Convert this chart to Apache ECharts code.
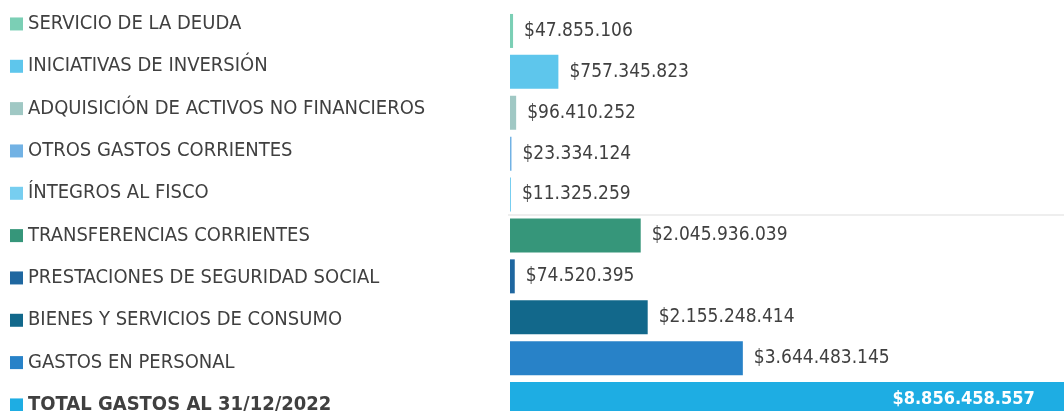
<!DOCTYPE html>
<html>
<head>
<meta charset="utf-8">
<script src="https://cdn.jsdelivr.net/npm/echarts@6/dist/echarts.min.js"></script>
<style>
  html, body { margin: 0; padding: 0; background: #fff; }
  #gastos { width: 1064px; height: 411px; }
</style>
</head>
<body>
<div id="gastos"></div>
<script>
  var categories = [
    'SERVICIO DE LA DEUDA',
    'INICIATIVAS DE INVERSIÓN',
    'ADQUISICIÓN DE ACTIVOS NO FINANCIEROS',
    'OTROS GASTOS CORRIENTES',
    'ÍNTEGROS AL FISCO',
    'TRANSFERENCIAS CORRIENTES',
    'PRESTACIONES DE SEGURIDAD SOCIAL',
    'BIENES Y SERVICIOS DE CONSUMO',
    'GASTOS EN PERSONAL',
    'TOTAL GASTOS AL 31/12/2022'
  ];
  var montos = [47855106, 757345823, 96410252, 23334124, 11325259, 2045936039, 74520395, 2155248414, 3644483145, 8856458557];
  var colores = ['#7BCFB5', '#5EC6EC', '#A0C8C4', '#72B2E4', '#77CEF0', '#36967A', '#1F67A0', '#12688B', '#2882C8', '#1EADE3'];

  var fuente = '"DejaVu Sans Condensed", "DejaVu Sans", sans-serif';
  var totalIdx = categories.length - 1;

  function pesos(v) {
    return '$' + String(v).replace(/\B(?=(\d{3})+(?!\d))/g, '.');
  }

  // marcadores de color para cada etiqueta
  var rich = {
    t: { fontFamily: fuente, fontSize: 20, color: '#404040', padding: [0, 0, 0, 5] },
    b: { fontFamily: fuente, fontSize: 20, color: '#404040', fontWeight: 'bold', padding: [0, 0, 0, 5] }
  };
  colores.forEach(function (c, i) {
    rich['m' + i] = { width: 13, height: 13, backgroundColor: c };
  });

  var chart = echarts.init(document.getElementById('gastos'));
  var option;

  option = {
    animation: false,
    grid: [
      { left: 510, width: 575, top: 10.5, height: 409, outerBoundsMode: 'none' },
      { left: 10, width: 1, top: 2.8, height: 423.3, outerBoundsMode: 'none' }
    ],
    xAxis: [
      { type: 'value', gridIndex: 0, min: 0, max: 9e9, show: false },
      { type: 'value', gridIndex: 1, show: false }
    ],
    yAxis: [
      {
        type: 'category', gridIndex: 0, data: categories, inverse: true,
        axisLine: { show: false }, axisTick: { show: false }, axisLabel: { show: false },
        splitLine: { show: false }
      },
      {
        type: 'category', gridIndex: 1, data: categories, inverse: true,
        axisLine: { show: false }, axisTick: { show: false },
        axisLabel: {
          inside: true,
          margin: 0,
          formatter: function (value, index) {
            var key = index === totalIdx ? 'b' : 't';
            return '{m' + index + '|}{' + key + '|' + value + '}';
          },
          rich: rich
        }
      }
    ],
    series: [
      {
        type: 'bar',
        xAxisIndex: 0,
        yAxisIndex: 0,
        barWidth: 34,
        barMinHeight: 1,
        data: montos.map(function (v, i) {
          var item = { value: v, itemStyle: { color: colores[i] } };
          if (i === totalIdx) {
            item.label = {
              position: 'insideRight', distance: 41,
              color: '#ffffff', fontWeight: 'bold', fontSize: 18
            };
          }
          return item;
        }),
        label: {
          show: true,
          position: 'right',
          distance: 11,
          fontFamily: fuente,
          fontSize: 19,
          color: '#404040',
          formatter: function (p) { return pesos(p.value); }
        }
      }
    ]
  };

  option && chart.setOption(option);

  // linea tenue entre ÍNTEGROS y TRANSFERENCIAS
  var yA = chart.convertToPixel({ yAxisIndex: 0 }, categories[4]);
  var yB = chart.convertToPixel({ yAxisIndex: 0 }, categories[5]);
  chart.setOption({
    graphic: [{
      type: 'line',
      shape: { x1: 508, y1: (yA + yB) / 2, x2: 1064, y2: (yA + yB) / 2 },
      style: { stroke: '#eeeeee', lineWidth: 2 },
      silent: true
    }]
  });
</script>
</body>
</html>
